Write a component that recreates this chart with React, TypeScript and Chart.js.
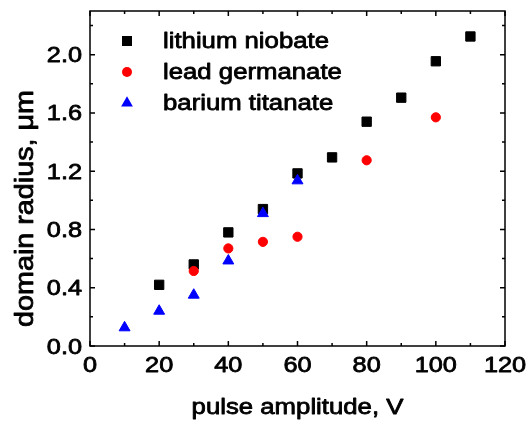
import { useEffect, useRef } from "react";
import { Chart, registerables } from "chart.js";

Chart.register(...registerables);

// ---- data ----
const seriesNames = ["lithium niobate", "lead germanate", "barium titanate"];
const seriesColors = ["#000000", "#ff0000", "#0000ff"];

const lithiumX = [20, 30, 40, 50, 60, 70, 80, 90, 100, 110];
const lithiumY = [0.42, 0.56, 0.78, 0.94, 1.185, 1.295, 1.54, 1.705, 1.955, 2.125];

const leadX = [30, 40, 50, 60, 80, 100];
const leadY = [0.515, 0.67, 0.715, 0.75, 1.275, 1.57];

const bariumX = [10, 20, 30, 40, 50, 60];
const bariumY = [0.126, 0.24, 0.35, 0.585, 0.91, 1.135];

const xMajorTicks = [0, 20, 40, 60, 80, 100, 120];
const xMinorTicks = [10, 30, 50, 70, 90, 110];
const yMajorTicks = [0, 0.4, 0.8, 1.2, 1.6, 2.0];
const yMinorTicks = [0.2, 0.6, 1.0, 1.4, 1.8, 2.2];

const xMin = 0;
const xMax = 120;
const yMin = 0;
const yMax = 2.3;

const xTitle = "pulse amplitude, V";
const yTitle = "domain radius, \u03bcm";

const FONT = '"Liberation Sans", Arial, Helvetica, sans-serif';

function toPoints(xs: number[], ys: number[]) {
  return xs.map((x, i) => ({ x, y: ys[i] }));
}

function drawScaledText(
  ctx: CanvasRenderingContext2D,
  text: string,
  x: number,
  y: number,
  sx: number,
  align: CanvasTextAlign,
  rotate = 0
) {
  ctx.save();
  ctx.translate(x, y);
  if (rotate) ctx.rotate(rotate);
  ctx.scale(sx, 1);
  ctx.textAlign = align;
  ctx.textBaseline = "alphabetic";
  ctx.fillStyle = "#000";
  ctx.strokeStyle = "#000";
  ctx.lineWidth = 0.8;
  ctx.lineJoin = "round";
  ctx.fillText(text, 0, 0);
  ctx.strokeText(text, 0, 0);
  ctx.restore();
}

function drawMarker(ctx: CanvasRenderingContext2D, style: string, x: number, y: number, color: string) {
  ctx.save();
  ctx.fillStyle = color;
  ctx.beginPath();
  if (style === "rect") {
    ctx.rect(x - 5, y - 5, 10, 10);
  } else if (style === "circle") {
    ctx.arc(x, y, 5, 0, Math.PI * 2);
  } else {
    const r = 6.8;
    ctx.moveTo(x, y - r);
    ctx.lineTo(x + r * Math.cos(Math.PI / 6), y + r / 2);
    ctx.lineTo(x - r * Math.cos(Math.PI / 6), y + r / 2);
    ctx.closePath();
  }
  ctx.fill();
  ctx.restore();
}

const framePlugin = {
  id: "originFrame",
  afterDraw(chart: any) {
    const { ctx, chartArea, scales } = chart;
    const { left, right, top, bottom } = chartArea;
    const xs = scales.x;
    const ys = scales.y;
    ctx.save();
    ctx.strokeStyle = "#000";
    ctx.lineWidth = 1.5;
    ctx.strokeRect(left, top, right - left, bottom - top);

    const major = 5;
    const minor = 3;
    ctx.beginPath();
    const xTick = (v: number, len: number) => {
      const px = xs.getPixelForValue(v);
      ctx.moveTo(px, bottom);
      ctx.lineTo(px, bottom - len);
      ctx.moveTo(px, top);
      ctx.lineTo(px, top + len);
    };
    const yTick = (v: number, len: number) => {
      const py = ys.getPixelForValue(v);
      ctx.moveTo(left, py);
      ctx.lineTo(left + len, py);
      ctx.moveTo(right, py);
      ctx.lineTo(right - len, py);
    };
    xMajorTicks.forEach((v) => xTick(v, major));
    xMinorTicks.forEach((v) => xTick(v, minor));
    yMajorTicks.forEach((v) => yTick(v, major));
    yMinorTicks.forEach((v) => yTick(v, minor));
    ctx.stroke();

    ctx.font = `22px ${FONT}`;
    xMajorTicks.forEach((v) => {
      drawScaledText(ctx, String(v), xs.getPixelForValue(v), bottom + 26, 1.15, "center");
    });
    yMajorTicks.forEach((v) => {
      drawScaledText(ctx, v.toFixed(1), left - 8, ys.getPixelForValue(v) + 7.5, 1.15, "right");
    });

    // axis titles
    ctx.font = `22px ${FONT}`;
    drawScaledText(ctx, xTitle, (left + right) / 2, bottom + 68, 1.17, "center");
    ctx.font = `25px ${FONT}`;
    drawScaledText(ctx, yTitle, 33, (top + bottom) / 2 + 30, 1.15, "center", -Math.PI / 2);

    // legend
    const styles = ["rect", "circle", "triangle"];
    ctx.font = `22px ${FONT}`;
    seriesNames.forEach((name, i) => {
      const cy = top + 30 + i * 31;
      drawMarker(ctx, styles[i], left + 37, cy, seriesColors[i]);
      drawScaledText(ctx, name, left + 73, cy + 6.5, 1.17, "left");
    });
    ctx.restore();
  },
};

export default function App() {
  const canvasRef = useRef<HTMLCanvasElement | null>(null);

  useEffect(() => {
    const canvas = canvasRef.current;
    if (!canvas) return;
    const chart = new Chart(canvas, {
      type: "scatter",
      data: {
        datasets: [
          {
            label: seriesNames[0],
            data: toPoints(lithiumX, lithiumY),
            pointStyle: "rect",
            pointRadius: 6.6,
            backgroundColor: seriesColors[0],
            borderColor: seriesColors[0],
            borderWidth: 1,
            order: 3,
          },
          {
            label: seriesNames[1],
            data: toPoints(leadX, leadY),
            pointStyle: "circle",
            pointRadius: 4.6,
            backgroundColor: seriesColors[1],
            borderColor: seriesColors[1],
            borderWidth: 1,
            order: 2,
          },
          {
            label: seriesNames[2],
            data: toPoints(bariumX, bariumY),
            pointStyle: "triangle",
            pointRadius: 6.3,
            backgroundColor: seriesColors[2],
            borderColor: seriesColors[2],
            borderWidth: 1,
            order: 1,
          },
        ],
      },
      options: {
        animation: false,
        responsive: false,
        maintainAspectRatio: false,
        events: [],
        layout: { padding: { left: 90, right: 24, top: 11, bottom: 76 } },
        scales: {
          x: { type: "linear", display: false, min: xMin, max: xMax },
          y: { type: "linear", display: false, min: yMin, max: yMax },
        },
        plugins: {
          legend: { display: false },
          tooltip: { enabled: false },
        },
      },
      plugins: [framePlugin],
    });
    return () => chart.destroy();
  }, []);

  return (
    <div style={{ position: "absolute", left: 0, top: 0, width: 529, height: 422, background: "#fff" }}>
      <canvas ref={canvasRef} width={529} height={422} style={{ width: 529, height: 422, display: "block" }} />
    </div>
  );
}
